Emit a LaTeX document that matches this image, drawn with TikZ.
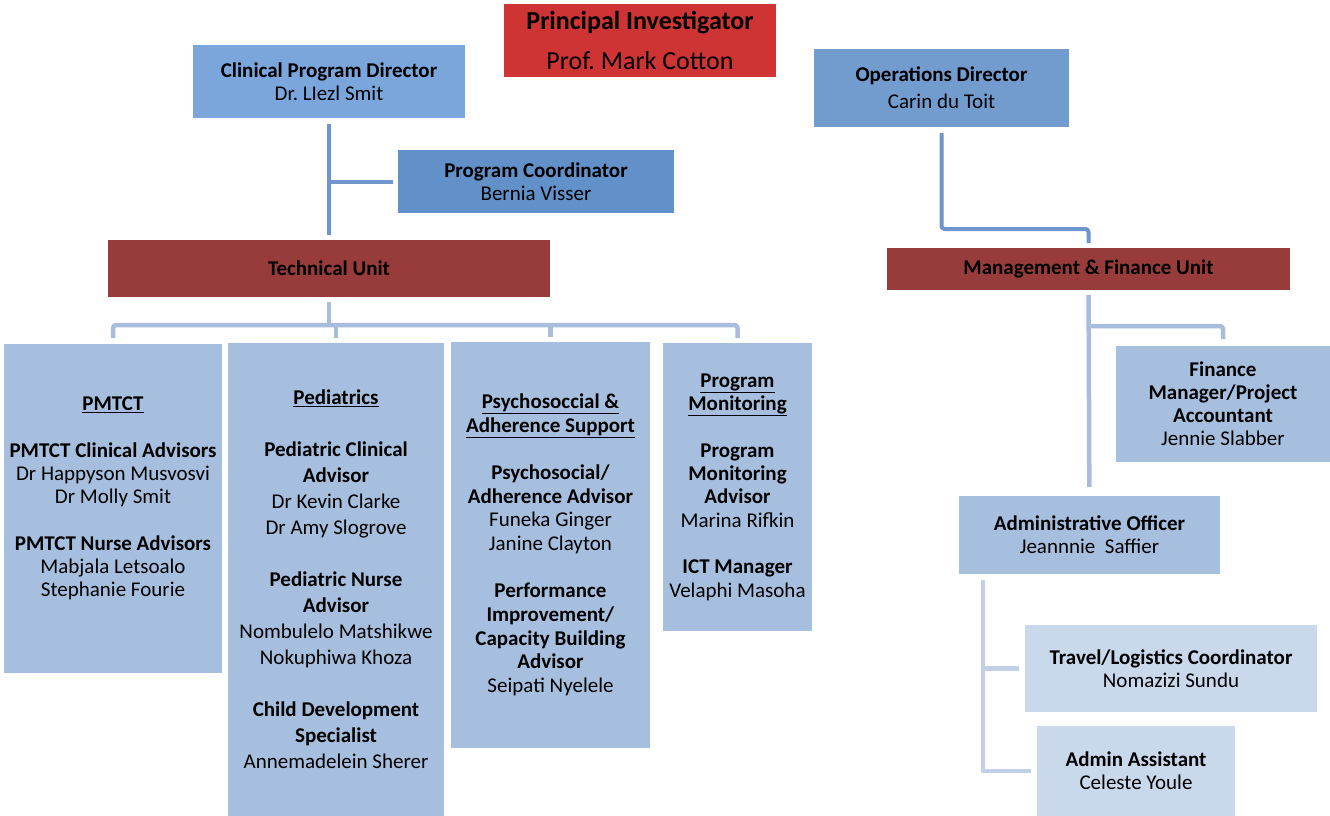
\documentclass[tikz,border=0pt]{standalone}
\usepackage{fontspec}
\setmainfont{Carlito}
\definecolor{piRed}{RGB}{206,52,52}
\definecolor{unitRed}{RGB}{152,59,59}
\definecolor{cpdBlue}{RGB}{122,166,220}
\definecolor{pcBlue}{RGB}{98,144,200}
\definecolor{odBlue}{RGB}{114,155,206}
\definecolor{staffBlue}{RGB}{167,191,222}
\definecolor{paleBlue}{RGB}{201,216,235}
\definecolor{lineDark}{RGB}{112,148,204}
\definecolor{lineLight}{RGB}{168,188,220}
\definecolor{linePale}{RGB}{194,207,230}
\tikzset{
	box/.style={rectangle, inner sep=0pt, outer sep=0pt, align=center, font=\fontsize{21}{23}\selectfont},
	darklink/.style={draw=lineDark, line width=4pt},
	lightlink/.style={draw=lineLight, line width=4.5pt},
	palelink/.style={draw=linePale, line width=4.5pt}
}
\begin{document}
\frenchspacing
\begin{tikzpicture}[x=1pt, y=-1pt, line join=round]
	\useasboundingbox (0,0) rectangle (1330,816);
	\node[box, fill=piRed, minimum width=272pt, minimum height=73pt, font=\fontsize{26}{40}\selectfont] (pi) at (640,40.5) {\textbf{Principal Investigator}\\Prof. Mark Cotton};
	\node[box, fill=cpdBlue, minimum width=272pt, minimum height=73pt] (cpd) at (329,81.5) {\textbf{Clinical Program Director}\\Dr. LIezl Smit};
	\node[box, fill=pcBlue, minimum width=276pt, minimum height=63pt] (pc) at (536,181.5) {\textbf{Program Coordinator}\\Bernia Visser};
	\node[box, fill=odBlue, minimum width=255pt, minimum height=78pt, font=\fontsize{21}{27}\selectfont] (od) at (941.5,88) {\textbf{Operations Director}\\Carin du Toit};
	\node[box, fill=unitRed, minimum width=442pt, minimum height=57pt] (tu) at (329,268.5) {\textbf{Technical Unit}};
	\node[box, fill=unitRed, minimum width=403pt, minimum height=42pt] (mfu) at (1088.5,269) {\textbf{Management \& Finance Unit}};
	\node[box, fill=staffBlue, minimum width=218pt, minimum height=329pt] (pmtct) at (113,508.5) {\textbf{\underline{PMTCT}}\\[24pt]
		\textbf{PMTCT Clinical Advisors}\\Dr Happyson Musvosvi\\Dr Molly Smit\\[24pt]
		\textbf{PMTCT Nurse Advisors}\\Mabjala Letsoalo\\Stephanie Fourie\\[0pt]~};
	\node[box, fill=staffBlue, minimum width=216pt, minimum height=473pt, font=\fontsize{21}{26}\selectfont] (ped) at (336,579.5) {\textbf{\underline{Pediatrics}}\\[26pt]
		\textbf{Pediatric Clinical}\\\textbf{Advisor}\\Dr Kevin Clarke\\Dr Amy Slogrove\\[26pt]
		\textbf{Pediatric Nurse}\\\textbf{Advisor}\\Nombulelo Matshikwe\\Nokuphiwa Khoza\\[26pt]
		\textbf{Child Development}\\\textbf{Specialist}\\Annemadelein Sherer};
	\node[box, fill=staffBlue, minimum width=199pt, minimum height=406pt, font=\fontsize{21}{23.8}\selectfont] (psy) at (550.5,545) {\textbf{\underline{Psychosoccial \&}}\\\textbf{\underline{Adherence Support}}\\[23pt]
		\textbf{Psychosocial/}\\\textbf{Adherence Advisor}\\Funeka Ginger\\Janine Clayton\\[23pt]
		\textbf{Performance}\\\textbf{Improvement/}\\\textbf{Capacity Building}\\\textbf{Advisor}\\Seipati Nyelele};
	\node[box, fill=staffBlue, minimum width=149pt, minimum height=288pt, font=\fontsize{21}{23.4}\selectfont] (pm) at (737.5,487) {\textbf{\underline{Program}}\\\textbf{\underline{Monitoring}}\\[23pt]
		\textbf{Program}\\\textbf{Monitoring}\\\textbf{Advisor}\\Marina Rifkin\\[23pt]
		\textbf{ICT Manager}\\Velaphi Masoha};
	\node[box, fill=staffBlue, minimum width=214pt, minimum height=116pt] (fin) at (1223,404) {\textbf{Finance}\\\textbf{Manager/Project}\\\textbf{Accountant}\\Jennie Slabber};
	\node[box, fill=staffBlue, minimum width=261pt, minimum height=78pt] (ao) at (1089.5,535) {\textbf{Administrative Officer}\\Jeannnie~ Saffier};
	\node[box, fill=paleBlue, minimum width=292pt, minimum height=87pt] (tr) at (1171,668.5) {\textbf{Travel/Logistics Coordinator}\\Nomazizi Sundu};
	\node[box, fill=paleBlue, minimum width=198pt, minimum height=90pt] (aa) at (1136,771) {\textbf{Admin Assistant}\\Celeste Youle};
	\draw[darklink, shorten <=6pt, shorten >=5pt] (cpd) -- (tu);
	\draw[darklink] (cpd.south |- pc.west) -- ([xshift=-5pt]pc.west);
	\draw[darklink, rounded corners=3pt] ([yshift=-6pt]od.south) |- ([yshift=19pt]mfu.north) -- ([yshift=5pt]mfu.north);
	\coordinate (tubus) at ([yshift=-28pt]tu.south);
	\draw[lightlink] ([yshift=-5pt]tu.south) -- (tubus);
	\draw[lightlink, rounded corners=3pt] ([yshift=6pt]pmtct.north) |- (tubus) -| ([yshift=5pt]pm.north);
	\foreach \n in {ped,psy}{
		\draw[lightlink] (tubus -| \n.north) -- ([yshift=5pt]\n.north);
	}
	\draw[lightlink, shorten <=5pt, shorten >=9pt] (mfu) -- (ao);
	\coordinate (mfbus) at ([yshift=-36pt]mfu.south);
	\draw[lightlink, rounded corners=3pt] (mfbus) -| ([yshift=7pt]fin.north);
	\coordinate (aoleg) at ([xshift=24pt,yshift=-6pt]ao.south west);
	\draw[palelink] (aoleg) |- ([xshift=-6pt]aa.west);
	\draw[palelink] (aoleg |- tr.west) -- ([xshift=-6pt]tr.west);
\end{tikzpicture}
\end{document}
